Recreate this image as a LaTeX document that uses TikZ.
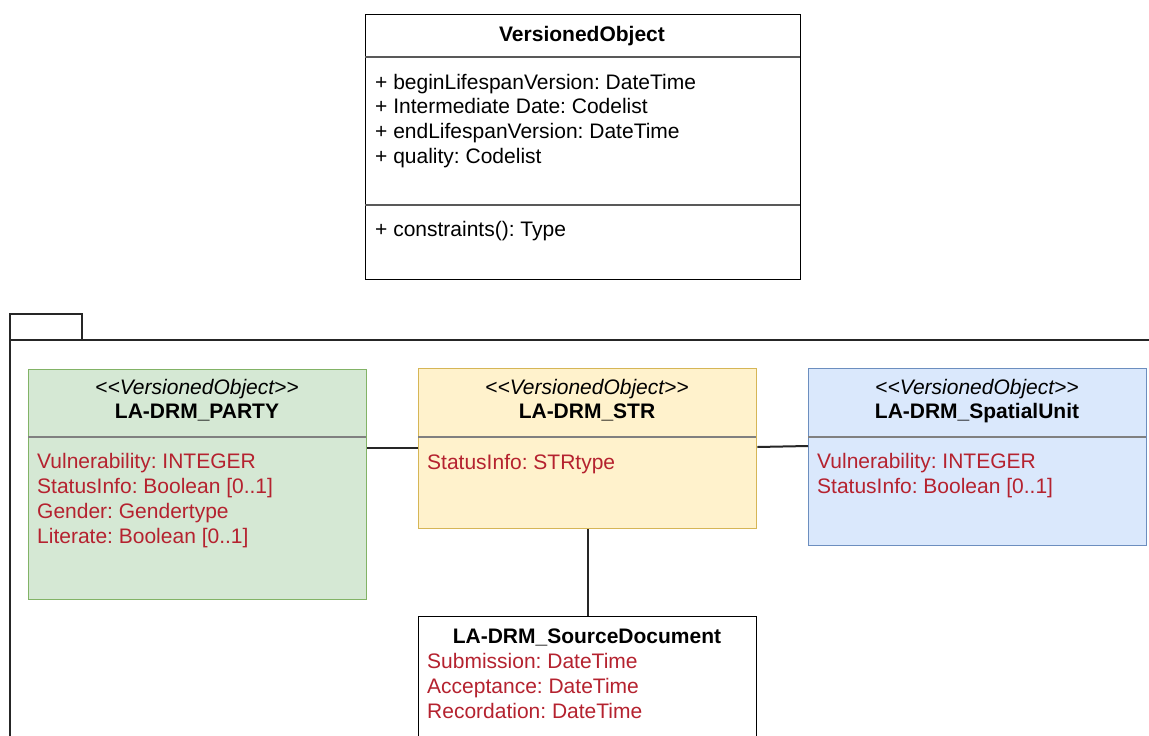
\documentclass[tikz,border=0pt]{standalone}
\usepackage{fontspec}
\setmainfont{Liberation Sans}
\frenchspacing
\begin{document}
\begin{tikzpicture}[x=1pt,y=-1pt,
  every node/.style={font=\fontsize{21}{25}\selectfont, inner sep=0pt},
  umlbox/.style={draw, line width=1.3pt, anchor=north west, inner sep=0pt},
  sepline/.style={draw=gray!70!black, line width=1.3pt},
  attr/.style={anchor=base west, text=attrred},
  op/.style={anchor=base west, text=black},
  stereo/.style={anchor=base, font=\fontsize{21}{25}\selectfont\itshape},
  cname/.style={anchor=base, font=\fontsize{21}{25}\selectfont\bfseries},
  link/.style={draw=black!85, line width=2pt}]
\definecolor{attrred}{HTML}{B5222F}
\definecolor{greenfill}{HTML}{D5E8D4}
\definecolor{greenline}{HTML}{82B366}
\definecolor{yellowfill}{HTML}{FFF2CC}
\definecolor{yellowline}{HTML}{D6B656}
\definecolor{bluefill}{HTML}{DAE8FC}
\definecolor{blueline}{HTML}{6C8EBF}
\clip (0,0) rectangle (1149,736);
\fill[white] (0,0) rectangle (1149,736);

% abstract parent class
\node[umlbox, draw=black, minimum width=435pt, minimum height=265pt] (vo) at (365,14) {};
\node[cname] (votitle) at (582,41) {VersionedObject};
\draw[sepline] (365,57) -- (800,57);
\node[op] (vo1) at (375,89) {+ beginLifespanVersion: DateTime};
\node[op] (vo2) at (375,113) {+ Intermediate Date: Codelist};
\node[op] (vo3) at (375,138) {+ endLifespanVersion: DateTime};
\node[op] (vo4) at (375,163) {+ quality: Codelist};
\draw[sepline] (365,205) -- (800,205);
\node[op] (vo5) at (375,236) {+ constraints(): Type};

% package frame
\draw[line width=1.8pt, draw=black!85] (10,314) rectangle (82,340);
\draw[line width=1.8pt, draw=black!85] (10,760) -- (10,340) -- (1170,340);

% party class
\node[umlbox, draw=greenline, fill=greenfill, minimum width=338pt, minimum height=230pt] (party) at (28,369) {};
\node[stereo] (partyst) at (197,394) {<\kern0pt<VersionedObject>\kern0pt>};
\node[cname] (partyname) at (197,418) {LA-DRM\_PARTY};
\draw[draw=gray, line width=1.3pt] (28,437) -- (366,437);
\node[attr] (pa1) at (37,468) {Vulnerability: INTEGER};
\node[attr] (pa2) at (37,493) {StatusInfo: Boolean [0..1]};
\node[attr] (pa3) at (37,518) {Gender: Gendertype};
\node[attr] (pa4) at (37,543) {Literate: Boolean [0..1]};

% rights/restrictions class
\node[umlbox, draw=yellowline, fill=yellowfill, minimum width=338pt, minimum height=160pt] (str) at (418,368) {};
\node[stereo] (strst) at (587,394) {<\kern0pt<VersionedObject>\kern0pt>};
\node[cname] (strname) at (587,418) {LA-DRM\_STR};
\draw[draw=gray, line width=1.3pt] (418,437) -- (756,437);
\node[attr] (sa1) at (427,469) {StatusInfo: STRtype};

% spatial unit class
\node[umlbox, draw=blueline, fill=bluefill, minimum width=338pt, minimum height=177pt] (su) at (808,368) {};
\node[stereo] (sust) at (977,394) {<\kern0pt<VersionedObject>\kern0pt>};
\node[cname] (suname) at (977,418) {LA-DRM\_SpatialUnit};
\draw[draw=gray, line width=1.3pt] (808,437) -- (1146,437);
\node[attr] (ua1) at (817,468) {Vulnerability: INTEGER};
\node[attr] (ua2) at (817,493) {StatusInfo: Boolean [0..1]};

% source document class
\node[umlbox, draw=black, fill=white, minimum width=338pt, minimum height=160pt] (src) at (418,616) {};
\node[cname] (srcname) at (587,643) {LA-DRM\_SourceDocument};
\node[attr] (da1) at (427,668) {Submission: DateTime};
\node[attr] (da2) at (427,693) {Acceptance: DateTime};
\node[attr] (da3) at (427,718) {Recordation: DateTime};

% associations
\draw[link] (party.east |- 0,448) -- (str.west |- 0,448);
\draw[link] (str.east |- 0,447) -- (su.west |- 0,446);
\draw[link] (str.south) -- (src.north);
\end{tikzpicture}
\end{document}
